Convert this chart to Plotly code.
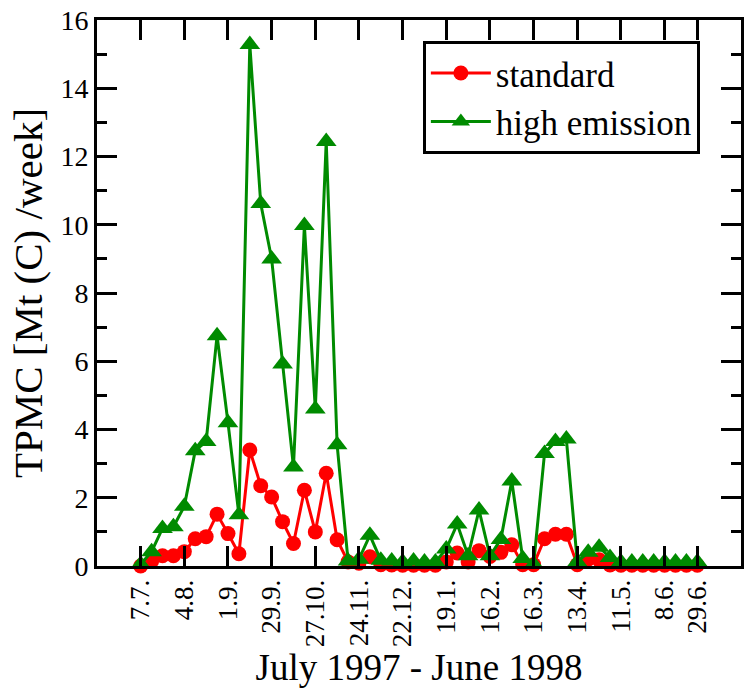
import plotly.graph_objects as go

# week index since 7.7.1997
weeks = list(range(52))

standard = [0.0, 0.13, 0.3, 0.3, 0.42, 0.8, 0.86, 1.52, 0.95, 0.36,
            3.4, 2.35, 2.02, 1.3, 0.66, 2.22, 1.0, 2.72, 0.77, 0.12,
            0.08, 0.27, 0.04, 0.03, 0.02, 0.02, 0.02, 0.02, 0.12, 0.38,
            0.12, 0.45, 0.28, 0.4, 0.62, 0.04, 0.04, 0.8, 0.93, 0.93,
            0.04, 0.2, 0.18, 0.03, 0.02, 0.02, 0.02, 0.02, 0.02, 0.02,
            0.02, 0.02]

high_emission = [0.05, 0.42, 1.1, 1.15, 1.75, 3.38, 3.65, 6.75, 4.2, 1.5,
                 15.28, 10.62, 9.0, 5.92, 2.9, 9.98, 4.6, 12.44, 3.55, 0.15,
                 0.2, 0.9, 0.17, 0.15, 0.12, 0.15, 0.12, 0.12, 0.5, 1.23,
                 0.3, 1.64, 0.3, 0.78, 2.49, 0.22, 0.05, 3.3, 3.65, 3.72,
                 0.12, 0.4, 0.55, 0.25, 0.12, 0.12, 0.12, 0.12, 0.12, 0.12,
                 0.12, 0.12]

tick_weeks = [0, 4, 8, 12, 16, 20, 24, 28, 32, 36, 40, 44, 48, 51]
tick_labels = ["7.7.", "4.8.", "1.9.", "29.9.", "27.10.", "24.11.", "22.12.",
               "19.1.", "16.2.", "16.3.", "13.4.", "11.5.", "8.6.", "29.6."]
y_ticks = [0, 2, 4, 6, 8, 10, 12, 14, 16]

RED = "#ff0000"
GREEN = "#008b00"
FONT = "Liberation Serif, Times New Roman, DejaVu Serif, serif"

fig = go.Figure()
fig.add_trace(go.Scatter(
    x=weeks, y=standard, mode="lines+markers", name="standard",
    line=dict(color=RED, width=3),
    marker=dict(symbol="circle", size=15, color=RED),
    cliponaxis=False,
))
fig.add_trace(go.Scatter(
    x=weeks, y=high_emission, mode="lines+markers", name="high emission",
    line=dict(color=GREEN, width=3),
    marker=dict(symbol="triangle-up", size=18, color=GREEN),
    cliponaxis=False,
))

fig.update_layout(
    width=744, height=692,
    margin=dict(l=97, r=3, t=20, b=126),
    paper_bgcolor="white", plot_bgcolor="white",
    font=dict(family=FONT, color="black", size=28),
    showlegend=True,
    legend=dict(
        x=0.506, y=0.962, xanchor="left", yanchor="top",
        bgcolor="white", bordercolor="black", borderwidth=3,
        font=dict(family=FONT, size=35, color="black"),
        itemwidth=60, tracegroupgap=0,
    ),
    xaxis=dict(
        range=[-4, 55], automargin=False,
        tickmode="array", tickvals=tick_weeks, ticktext=tick_labels,
        tickangle=-90, ticklabeloverflow="allow",
        ticks="inside", ticklen=20, tickwidth=3, tickcolor="black",
        showline=True, linewidth=3, linecolor="black", mirror="ticks",
        showgrid=False, zeroline=False,
        tickfont=dict(family=FONT, size=27),
        title=dict(text="July 1997 - June 1998",
                   font=dict(family=FONT, size=37), standoff=4),
    ),
    yaxis=dict(
        range=[0, 16], automargin=False,
        tickmode="array", tickvals=y_ticks, ticklabeloverflow="allow",
        ticks="inside", ticklen=20, tickwidth=3, tickcolor="black",
        showline=True, linewidth=3, linecolor="black", mirror="ticks",
        showgrid=False, zeroline=False,
        tickfont=dict(family=FONT, size=28),
        minor=dict(dtick=1, tick0=0, ticks="inside", ticklen=10,
                   tickwidth=3, tickcolor="black", showgrid=False),
        title=dict(text="TPMC [Mt (C) /week]",
                   font=dict(family=FONT, size=41), standoff=6),
    ),
)

# remove the default 8px page margin so the figure fills the window exactly
fig.write_html(
    "out.html",
    config={"displayModeBar": False},
    post_script="document.body.style.margin='0px';"
                "document.body.style.overflow='hidden';",
)
